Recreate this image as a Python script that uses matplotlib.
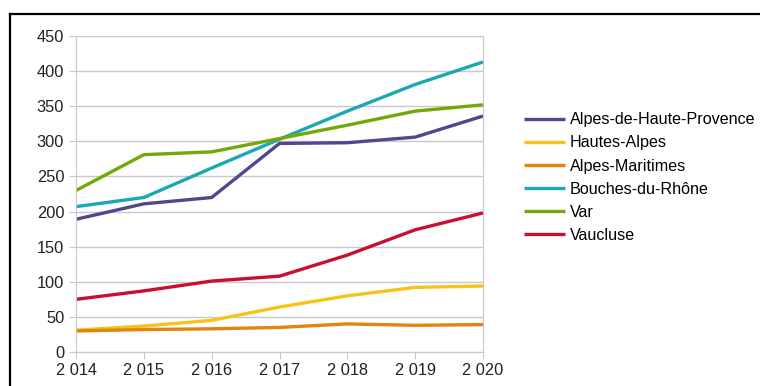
import matplotlib
matplotlib.use('Agg')
import matplotlib.pyplot as plt
from matplotlib.lines import Line2D

plt.rcParams['font.family'] = ['Liberation Sans', 'DejaVu Sans']

years = [2014, 2015, 2016, 2017, 2018, 2019, 2020]
year_labels = ['2 014', '2 015', '2 016', '2 017', '2 018', '2 019', '2 020']

alpes_hp = [189, 211, 220, 297, 298, 306, 336]
hautes_alpes = [31, 37, 45, 64, 80, 92, 94]
alpes_mar = [30, 32, 33, 35, 40, 38, 39]
bouches = [207, 220, 262, 303, 343, 381, 413]
var = [230, 281, 285, 304, 323, 343, 352]
vaucluse = [75, 87, 101, 108, 138, 174, 198]

names = ['Alpes-de-Haute-Provence', 'Hautes-Alpes', 'Alpes-Maritimes',
         'Bouches-du-Rhône', 'Var', 'Vaucluse']
colors = ['#55448f', '#f7c21a', '#e0860a', '#1ba8b5', '#72a80a', '#c8102e']
series = [alpes_hp, hautes_alpes, alpes_mar, bouches, var, vaucluse]

fig = plt.figure(figsize=(7.6, 3.86), dpi=100)
ax = fig.add_axes([76/760, 1-352/386, (483-76)/760, (352-36)/386])

for vals, name, c in zip(series, names, colors):
    ax.plot(years, vals, color=c, lw=2.4, label=name, solid_capstyle='butt')

ax.set_xlim(2014, 2020)
ax.set_ylim(0, 450)
ax.set_yticks(range(0, 451, 50))
ax.set_xticks(years)
ax.set_xticklabels(year_labels)
ax.grid(axis='y', color='#c8c8c8', lw=1)
ax.set_axisbelow(True)
for s in ax.spines.values():
    s.set_color('#c8c8c8')
ax.tick_params(colors='#c8c8c8', labelcolor='#222222', labelsize=11.8, length=5)
ax.tick_params(axis='x', pad=3)

fig.legend(loc='center left', bbox_to_anchor=(0.69, 0.54), frameon=False,
           fontsize=11.6, handlelength=2.5, handletextpad=0.3, labelspacing=0.5,
           borderpad=0, borderaxespad=0)

# black frame from the cropped screenshot
fig.add_artist(Line2D([10/760, 1], [1-14/386, 1-14/386], color='black', lw=1.6,
                      transform=fig.transFigure))
fig.add_artist(Line2D([10/760, 10/760], [0, 1-14/386], color='black', lw=1.6,
                      transform=fig.transFigure))

fig.savefig('out.png', dpi=100)
